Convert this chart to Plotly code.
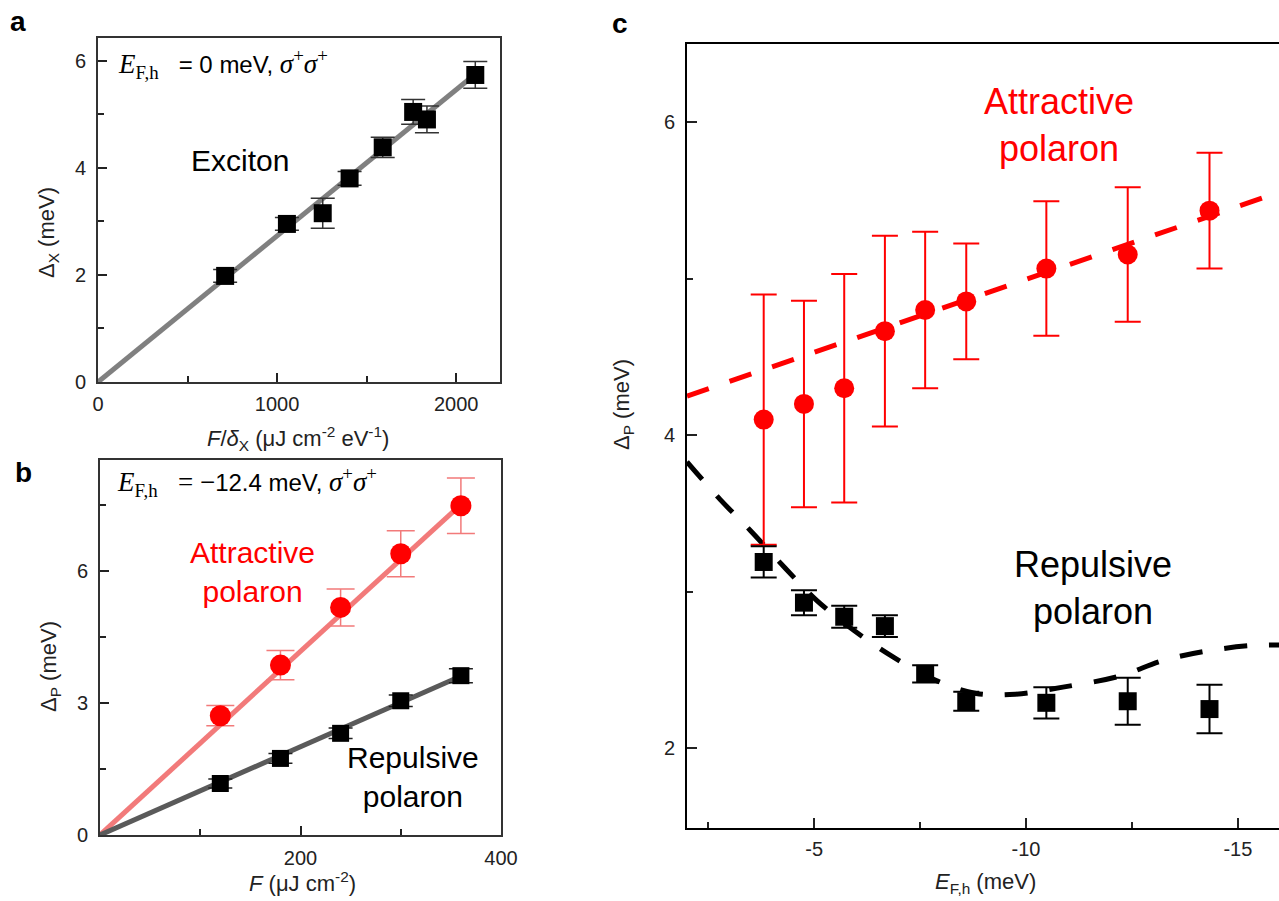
import plotly.graph_objects as go

W, H = 1279, 901

# ---------------- data ----------------
# panel a : exciton
a_x = [710, 1055, 1255, 1405, 1590, 1760, 1837, 2107]
a_y = [1.98, 2.95, 3.15, 3.80, 4.38, 5.04, 4.90, 5.73]
a_err = [0.12, 0.12, 0.28, 0.13, 0.19, 0.23, 0.25, 0.25]
a_fit_x = [0, 2130]
a_fit_y = [0, 5.81]

# panel b : polarons vs fluence
b_x = [120, 180, 240, 300, 360]
b_att = [2.71, 3.86, 5.17, 6.39, 7.48]
b_att_err = [0.23, 0.33, 0.42, 0.52, 0.63]
b_rep = [1.17, 1.74, 2.31, 3.05, 3.62]
b_rep_err = [0.10, 0.11, 0.12, 0.13, 0.16]
b_fit_x = [0, 362]
b_att_fit = [0, 7.55]
b_rep_fit = [0, 3.63]

# panel c : polarons vs Fermi energy
c_E = [-3.81, -4.76, -5.71, -6.67, -7.62, -8.59, -10.48, -12.4, -14.33]
c_att = [4.10, 4.20, 4.30, 4.665, 4.80, 4.855, 5.065, 5.155, 5.435]
c_att_err = [0.80, 0.66, 0.73, 0.61, 0.50, 0.37, 0.43, 0.43, 0.37]
c_rep = [3.19, 2.93, 2.84, 2.78, 2.475, 2.30, 2.29, 2.30, 2.25]
c_rep_err = [0.10, 0.08, 0.07, 0.07, 0.055, 0.06, 0.10, 0.15, 0.155]
c_att_fit_E = [-2.0, -16.0]
c_att_fit = [4.25, 5.555]
c_rep_curve_E = [-2.0, -2.78, -3.5, -4.32, -5.04, -5.95, -6.88, -7.9, -8.82,
                 -9.75, -10.87, -12.2, -13.23, -14.25, -15.27, -16.0]
c_rep_curve = [3.83, 3.59, 3.39, 3.15, 2.95, 2.75, 2.58, 2.43, 2.35,
               2.345, 2.39, 2.46, 2.56, 2.62, 2.655, 2.66]

# ticks (major with labels, minor without)
a_xticks = [0, 1000, 2000]
a_xminor = [500, 1500]
a_yticks = [0, 2, 4, 6]
a_yminor = [1, 3, 5]
b_xticks = [200, 400]
b_xminor = [100, 300]
b_yticks = [0, 3, 6]
b_yminor = [1.5, 4.5, 7.5]
c_xticks = [-5, -10, -15]
c_xtext = ["-5", "-10", "-15"]
c_xminor = [-2.5, -7.5, -12.5]
c_yticks = [2, 4, 6]
c_yminor = [3, 5]

RED = "#ff0000"
LRED = "#f27a7a"

def px(x):
    return x / W

def py(y):
    return 1 - y / H

fig = go.Figure()

# ---- panel a
fig.add_trace(go.Scatter(x=a_fit_x, y=a_fit_y, mode="lines",
                         line=dict(color="#808080", width=5),
                         xaxis="x", yaxis="y", showlegend=False))
fig.add_trace(go.Scatter(x=a_x, y=a_y, mode="markers",
                         marker=dict(symbol="square", size=18, color="black"),
                         error_y=dict(type="data", array=a_err, color="#333333",
                                      thickness=1.5, width=12),
                         xaxis="x", yaxis="y", showlegend=False))

# ---- panel b
fig.add_trace(go.Scatter(x=b_fit_x, y=b_att_fit, mode="lines",
                         line=dict(color=LRED, width=5),
                         xaxis="x2", yaxis="y2", showlegend=False))
fig.add_trace(go.Scatter(x=b_fit_x, y=b_rep_fit, mode="lines",
                         line=dict(color="#5a5a5a", width=5),
                         xaxis="x2", yaxis="y2", showlegend=False))
fig.add_trace(go.Scatter(x=b_x, y=b_att, mode="markers",
                         marker=dict(symbol="circle", size=21, color=RED),
                         error_y=dict(type="data", array=b_att_err, color=LRED,
                                      thickness=1.5, width=14),
                         xaxis="x2", yaxis="y2", showlegend=False))
fig.add_trace(go.Scatter(x=b_x, y=b_rep, mode="markers",
                         marker=dict(symbol="square", size=17, color="black"),
                         error_y=dict(type="data", array=b_rep_err, color="#222222",
                                      thickness=1.5, width=12),
                         xaxis="x2", yaxis="y2", showlegend=False))

# ---- panel c
fig.add_trace(go.Scatter(x=c_att_fit_E, y=c_att_fit, mode="lines",
                         line=dict(color=RED, width=5, dash="23px,22px"),
                         xaxis="x3", yaxis="y3", showlegend=False))
fig.add_trace(go.Scatter(x=c_rep_curve_E, y=c_rep_curve, mode="lines",
                         line=dict(color="black", width=5, dash="23px,22px"),
                         line_shape="spline",
                         xaxis="x3", yaxis="y3", showlegend=False))
fig.add_trace(go.Scatter(x=c_E, y=c_att, mode="markers",
                         marker=dict(symbol="circle", size=20, color=RED),
                         error_y=dict(type="data", array=c_att_err, color=RED,
                                      thickness=2, width=13),
                         xaxis="x3", yaxis="y3", showlegend=False))
fig.add_trace(go.Scatter(x=c_E, y=c_rep, mode="markers",
                         marker=dict(symbol="square", size=18, color="black"),
                         error_y=dict(type="data", array=c_rep_err, color="black",
                                      thickness=2, width=13),
                         xaxis="x3", yaxis="y3", showlegend=False))

tickfont = dict(family="Liberation Sans, Arial, sans-serif", size=20, color="#222222")
common = dict(showgrid=False, zeroline=False, showline=True, linewidth=2,
              ticks="inside", tickwidth=1.5, tickcolor="#222222",
              tickfont=tickfont, tickmode="array")

def minor(vals):
    return dict(tickmode="array", tickvals=vals, ticks="inside", ticklen=6,
                tickwidth=1.5, tickcolor="#222222", showgrid=False)

fig.update_layout(
    width=W, height=H,
    margin=dict(l=0, r=0, t=0, b=0, autoexpand=False),
    paper_bgcolor="white", plot_bgcolor="white",
    font=dict(family="Liberation Sans, Arial, sans-serif", color="black"),
    xaxis=dict(domain=[px(98), px(500)], range=[0, 2245], anchor="y",
               tickvals=a_xticks, minor=minor(a_xminor), linecolor="#333333",
               mirror=True, ticklen=9, ticklabelstandoff=3, **common),
    yaxis=dict(domain=[py(382), py(38)], range=[0, 6.42], anchor="x",
               tickvals=a_yticks, minor=minor(a_yminor), linecolor="#333333",
               mirror=True, ticklen=9, ticklabelstandoff=6, **common),
    xaxis2=dict(domain=[px(100), px(501)], range=[0, 400], anchor="y2",
                tickvals=b_xticks, minor=minor(b_xminor), linecolor="#333333",
                mirror=True, ticklen=9, ticklabelstandoff=4, **common),
    yaxis2=dict(domain=[py(835), py(460)], range=[0, 8.52], anchor="x2",
                tickvals=b_yticks, minor=minor(b_yminor), linecolor="#333333",
                mirror=True, ticklen=9, ticklabelstandoff=6, **common),
    xaxis3=dict(domain=[px(687), 1.0], range=[-2.0, -15.97], anchor="y3",
                tickvals=c_xticks, ticktext=c_xtext, minor=minor(c_xminor),
                linecolor="black", mirror=True, ticklen=10,
                ticklabelstandoff=2, **common),
    yaxis3=dict(domain=[py(828), py(44)], range=[1.49, 6.5], anchor="x3",
                tickvals=c_yticks, minor=minor(c_yminor), linecolor="black",
                mirror=False, ticklen=10, ticklabelstandoff=6, **common),
)

SERIF = "font-family:Liberation Serif;font-size:27px"
NB = "\u00a0"
ann = []

def text(x, y, s, size, color="black", xanchor="center", yanchor="middle", angle=0):
    ann.append(dict(x=px(x), y=py(y), xref="paper", yref="paper", text=s,
                    showarrow=False, xanchor=xanchor, yanchor=yanchor,
                    textangle=angle, font=dict(size=size, color=color)))

# panel labels
text(18, 22, "<b>a</b>", 28)
text(23, 472, "<b>b</b>", 28)
text(620, 24, "<b>c</b>", 28)

# axis titles
text(48, 233, "Δ<sub>X</sub> (meV)", 22, color="#222222", angle=-90)
text(298, 438, "<i>F</i>/<i>δ</i><sub>X</sub> (μJ cm<sup>-2</sup> eV<sup>-1</sup>)", 22, color="#222222")
text(50, 667, "Δ<sub>P</sub> (meV)", 22, color="#222222", angle=-90)
text(302, 882, "<i>F</i> (μJ cm<sup>-2</sup>)", 22, color="#222222")
text(623, 405, "Δ<sub>P</sub> (meV)", 22, color="#222222", angle=-90)
text(985, 883, "<i>E</i><sub>F,h</sub> (meV)", 22, color="#222222")

# in-plot text
mathA = (f'<span style="{SERIF}"><i>E</i><sub>F,h</sub></span>{NB}{NB} = 0 meV, '
         f'<span style="{SERIF}"><i>σ</i><sup>+</sup><i>σ</i><sup>+</sup></span>')
mathB = (f'<span style="{SERIF}"><i>E</i><sub>F,h</sub>{NB}{NB} = −</span>12.4 meV, '
         f'<span style="{SERIF}"><i>σ</i><sup>+</sup><i>σ</i><sup>+</sup></span>')
text(116, 64, mathA, 24, xanchor="left")
text(115, 482, mathB, 24, xanchor="left")
text(240, 160, "Exciton", 30)
text(252, 572, "Attractive<br>polaron", 30, color=RED)
text(413, 777, "Repulsive<br>polaron", 30)
text(1059, 125, "Attractive<br>polaron", 36, color=RED)
text(1093, 588, "Repulsive<br>polaron", 36)

fig.update_layout(annotations=ann)
fig.write_html("out.html", config={"displayModeBar": False},
               post_script="document.body.style.margin='0px';")
